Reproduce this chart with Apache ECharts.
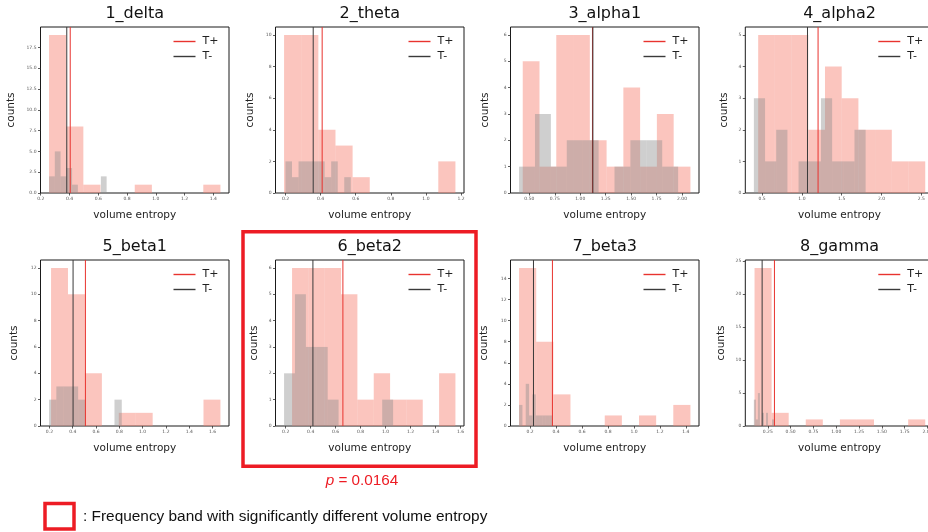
<!DOCTYPE html>
<html>
<head>
<meta charset="utf-8">
<script src="https://cdn.jsdelivr.net/npm/echarts@6/dist/echarts.min.js"></script>
<style>
  html, body { margin: 0; padding: 0; background: #fff; }
  #chart { width: 928px; height: 532px; }
</style>
</head>
<body>
<div id="chart"></div>
<script>
// Volume entropy histograms per frequency band, T+ vs T- groups (10 bins each).
const bands = ['1_delta', '2_theta', '3_alpha1', '4_alpha2', '5_beta1', '6_beta2', '7_beta3', '8_gamma'];

// T+ group: first bin edge, bin width, counts per bin
const posStart = [0.258, 0.192, 0.435, 0.450, 0.214, 0.251, 0.115, 0.105];
const posWidth = [0.1191, 0.0976, 0.1647, 0.210, 0.1454, 0.1308, 0.132, 0.187];
const posCounts = [
  [19, 8, 1, 0, 0, 1, 0, 0, 0, 1],
  [10, 10, 4, 3, 1, 0, 0, 0, 0, 2],
  [5, 1, 6, 6, 2, 1, 4, 1, 3, 1],
  [5, 5, 5, 2, 4, 3, 2, 2, 1, 1],
  [12, 10, 4, 0, 1, 1, 0, 0, 0, 2],
  [6, 6, 6, 5, 1, 2, 1, 1, 0, 2],
  [15, 8, 3, 0, 0, 1, 0, 1, 0, 2],
  [24, 2, 0, 1, 0, 1, 1, 0, 0, 1]
];

// T- group
const negStart = [0.258, 0.200, 0.399, 0.396, 0.197, 0.187, 0.115, 0.0975];
const negWidth = [0.040, 0.0372, 0.1562, 0.1405, 0.0624, 0.0873, 0.0257, 0.0221];
const negCounts = [
  [2, 5, 2, 3, 1, 0, 0, 0, 0, 2],
  [2, 1, 2, 2, 2, 2, 1, 2, 0, 1],
  [1, 3, 1, 2, 2, 0, 1, 2, 2, 1],
  [3, 1, 2, 0, 1, 1, 3, 1, 1, 2],
  [2, 3, 3, 3, 2, 0, 0, 0, 0, 2],
  [2, 5, 3, 3, 1, 0, 0, 0, 0, 1],
  [2, 0, 4, 1, 3, 1, 1, 1, 1, 1],
  [4, 1, 5, 0, 2, 0, 2, 0, 0, 1]
];

// Group means (vertical reference lines)
const posMean = [0.405, 0.409, 1.120, 1.203, 0.509, 0.658, 0.372, 0.323];
const negMean = [0.381, 0.358, 1.124, 1.070, 0.403, 0.418, 0.226, 0.188];

// Tick labels
const xTickLabels = [
  ['0.2', '0.4', '0.6', '0.8', '1.0', '1.2', '1.4'],
  ['0.2', '0.4', '0.6', '0.8', '1.0', '1.2'],
  ['0.50', '0.75', '1.00', '1.25', '1.50', '1.75', '2.00'],
  ['0.5', '1.0', '1.5', '2.0', '2.5'],
  ['0.2', '0.4', '0.6', '0.8', '1.0', '1.2', '1.4', '1.6'],
  ['0.2', '0.4', '0.6', '0.8', '1.0', '1.2', '1.4', '1.6'],
  ['0.2', '0.4', '0.6', '0.8', '1.0', '1.2', '1.4'],
  ['0.25', '0.50', '0.75', '1.00', '1.25', '1.50', '1.75', '2.00']
];
const yTickLabels = [
  ['0.0', '2.5', '5.0', '7.5', '10.0', '12.5', '15.0', '17.5'],
  ['0', '2', '4', '6', '8', '10'],
  ['0', '1', '2', '3', '4', '5', '6'],
  ['0', '1', '2', '3', '4', '5'],
  ['0', '2', '4', '6', '8', '10', '12'],
  ['0', '1', '2', '3', '4', '5', '6'],
  ['0', '2', '4', '6', '8', '10', '12', '14'],
  ['0', '5', '10', '15', '20', '25']
];

const highlightIndex = 5;
const pValueLabel = '{i|p} = 0.0164';
const noteLabel = ': Frequency band with significantly different volume entropy';

// ---- layout ----
const colLeft = [40.5, 275.5, 510.5, 745.3];
const rowTop = [27, 260];
const plotW = 188.5, plotH = 166;
const yNameGap = [24, 20, 20, 16, 21, 16, 21, 19];

const POS_FILL = 'rgba(246,128,114,0.46)';
const NEG_FILL = 'rgba(140,140,140,0.42)';
const POS_LINE = '#e8332e';
const NEG_LINE = '#3a3a3a';
const MPL_FONT = 'DejaVu Sans';

function histRender(params, api) {
  const c = api.value(2);
  if (!c) return null;
  const a = api.coord([api.value(0), 0]);
  const b = api.coord([api.value(1), c]);
  return {
    type: 'rect',
    shape: { x: a[0], y: b[1], width: b[0] - a[0], height: a[1] - b[1] },
    style: { fill: api.visual('color') }
  };
}

function binRows(start, width, counts) {
  return counts.map((c, k) => [start + k * width, start + (k + 1) * width, c]);
}

function labelFor(list) {
  return function (v) {
    const hit = list.find(s => Math.abs(Number(s) - v) < 1e-6);
    return hit !== undefined ? hit : '';
  };
}

const grid = [], xAxis = [], yAxis = [], series = [], legend = [], graphic = [];

bands.forEach((name, i) => {
  const left = colLeft[i % 4];
  const top = rowTop[Math.floor(i / 4)];
  grid.push({
    left: left, top: top, width: plotW, height: plotH,
    outerBoundsMode: 'none', containLabel: false,
    show: true, borderColor: '#1a1a1a', borderWidth: 1, backgroundColor: 'transparent'
  });

  // matplotlib-style auto limits: 5% margin on x, 5% headroom on y
  const lo = Math.min(posStart[i], negStart[i]);
  const hi = Math.max(posStart[i] + 10 * posWidth[i], negStart[i] + 10 * negWidth[i]);
  const pad = 0.05 * (hi - lo);
  const ymax = 1.05 * Math.max(...posCounts[i], ...negCounts[i]);

  const xVals = xTickLabels[i].map(Number);
  const yVals = yTickLabels[i].map(Number);

  xAxis.push({
    type: 'value', gridIndex: i, min: lo - pad, max: hi + pad,
    axisLine: { show: false, onZero: false },
    axisTick: { show: true, length: 2.5, customValues: xVals, lineStyle: { color: '#333', width: 0.8 } },
    axisLabel: { show: true, customValues: xVals, formatter: labelFor(xTickLabels[i]),
                 fontSize: 4.5, color: '#555', margin: 3, fontFamily: MPL_FONT },
    splitLine: { show: false },
    name: 'volume entropy', nameLocation: 'middle', nameGap: 17,
    nameTextStyle: { fontSize: 10.5, color: '#222', fontFamily: MPL_FONT }
  });
  yAxis.push({
    type: 'value', gridIndex: i, min: 0, max: ymax,
    axisLine: { show: false, onZero: false },
    axisTick: { show: true, length: 2.5, customValues: yVals, lineStyle: { color: '#333', width: 0.8 } },
    axisLabel: { show: true, customValues: yVals, formatter: labelFor(yTickLabels[i]),
                 fontSize: 4.5, color: '#555', margin: 4, fontFamily: MPL_FONT },
    splitLine: { show: false },
    name: 'counts', nameLocation: 'middle', nameRotate: 90, nameGap: yNameGap[i],
    nameTextStyle: { fontSize: 10.5, color: '#222', fontFamily: MPL_FONT }
  });

  series.push({
    type: 'custom', name: 'T+ hist', xAxisIndex: i, yAxisIndex: i,
    renderItem: histRender, itemStyle: { color: POS_FILL },
    encode: { x: [0, 1], y: 2 }, data: binRows(posStart[i], posWidth[i], posCounts[i]),
    silent: true, z: 2
  });
  series.push({
    type: 'custom', name: 'T- hist', xAxisIndex: i, yAxisIndex: i,
    renderItem: histRender, itemStyle: { color: NEG_FILL },
    encode: { x: [0, 1], y: 2 }, data: binRows(negStart[i], negWidth[i], negCounts[i]),
    silent: true, z: 3
  });
  series.push({
    type: 'line', name: 'T+', xAxisIndex: i, yAxisIndex: i, color: POS_LINE,
    data: [[posMean[i], 0], [posMean[i], ymax]], symbol: 'none',
    lineStyle: { color: POS_LINE, width: 1 }, silent: true, z: 4
  });
  series.push({
    type: 'line', name: 'T-', xAxisIndex: i, yAxisIndex: i, color: NEG_LINE,
    data: [[negMean[i], 0], [negMean[i], ymax]], symbol: 'none',
    lineStyle: { color: NEG_LINE, width: 1 }, silent: true, z: 5
  });

  legend.push({
    data: ['T+', 'T-'], orient: 'vertical', left: left + 133, top: top + 9,
    padding: 0, itemGap: 4, itemWidth: 22, itemHeight: 1.4, icon: 'rect',
    selectedMode: false,
    textStyle: { fontSize: 11, color: '#222', fontFamily: MPL_FONT, padding: [0, 0, 0, 2] }
  });

  graphic.push({
    type: 'text', x: left + plotW / 2, y: top - 13, silent: true,
    style: { text: name, align: 'center', verticalAlign: 'middle',
             fontSize: 16, fontFamily: MPL_FONT, fill: '#111' }
  });
});

// Significance frame around the highlighted band, p-value and note
const hl = highlightIndex;
const hlLeft = colLeft[hl % 4], hlTop = rowTop[Math.floor(hl / 4)];
graphic.push({
  type: 'rect', silent: true,
  shape: { x: hlLeft - 32.5, y: hlTop - 28.3, width: 233, height: 234.6 },
  style: { fill: 'none', stroke: '#ed1c24', lineWidth: 3.5 }
});
graphic.push({
  type: 'text', x: hlLeft + 86.5, y: 481, silent: true,
  style: {
    text: pValueLabel, align: 'center', verticalAlign: 'middle',
    fontSize: 15.3, fontFamily: 'Liberation Sans', fill: '#ed1c24',
    rich: { i: { fontStyle: 'italic', fontSize: 15.3, fontFamily: 'Liberation Sans', fill: '#ed1c24' } }
  }
});
graphic.push({
  type: 'rect', silent: true,
  shape: { x: 45, y: 503.5, width: 29, height: 25.5 },
  style: { fill: 'none', stroke: '#ed1c24', lineWidth: 3.5 }
});
graphic.push({
  type: 'text', x: 83, y: 517, silent: true,
  style: { text: noteLabel, align: 'left', verticalAlign: 'middle',
           fontSize: 15.4, fontFamily: 'Liberation Sans', fill: '#111' }
});

const chart = echarts.init(document.getElementById('chart'), null, { renderer: 'canvas' });
chart.setOption({
  animation: false,
  backgroundColor: '#fff',
  grid, xAxis, yAxis, series, legend, graphic
});
</script>
</body>
</html>
